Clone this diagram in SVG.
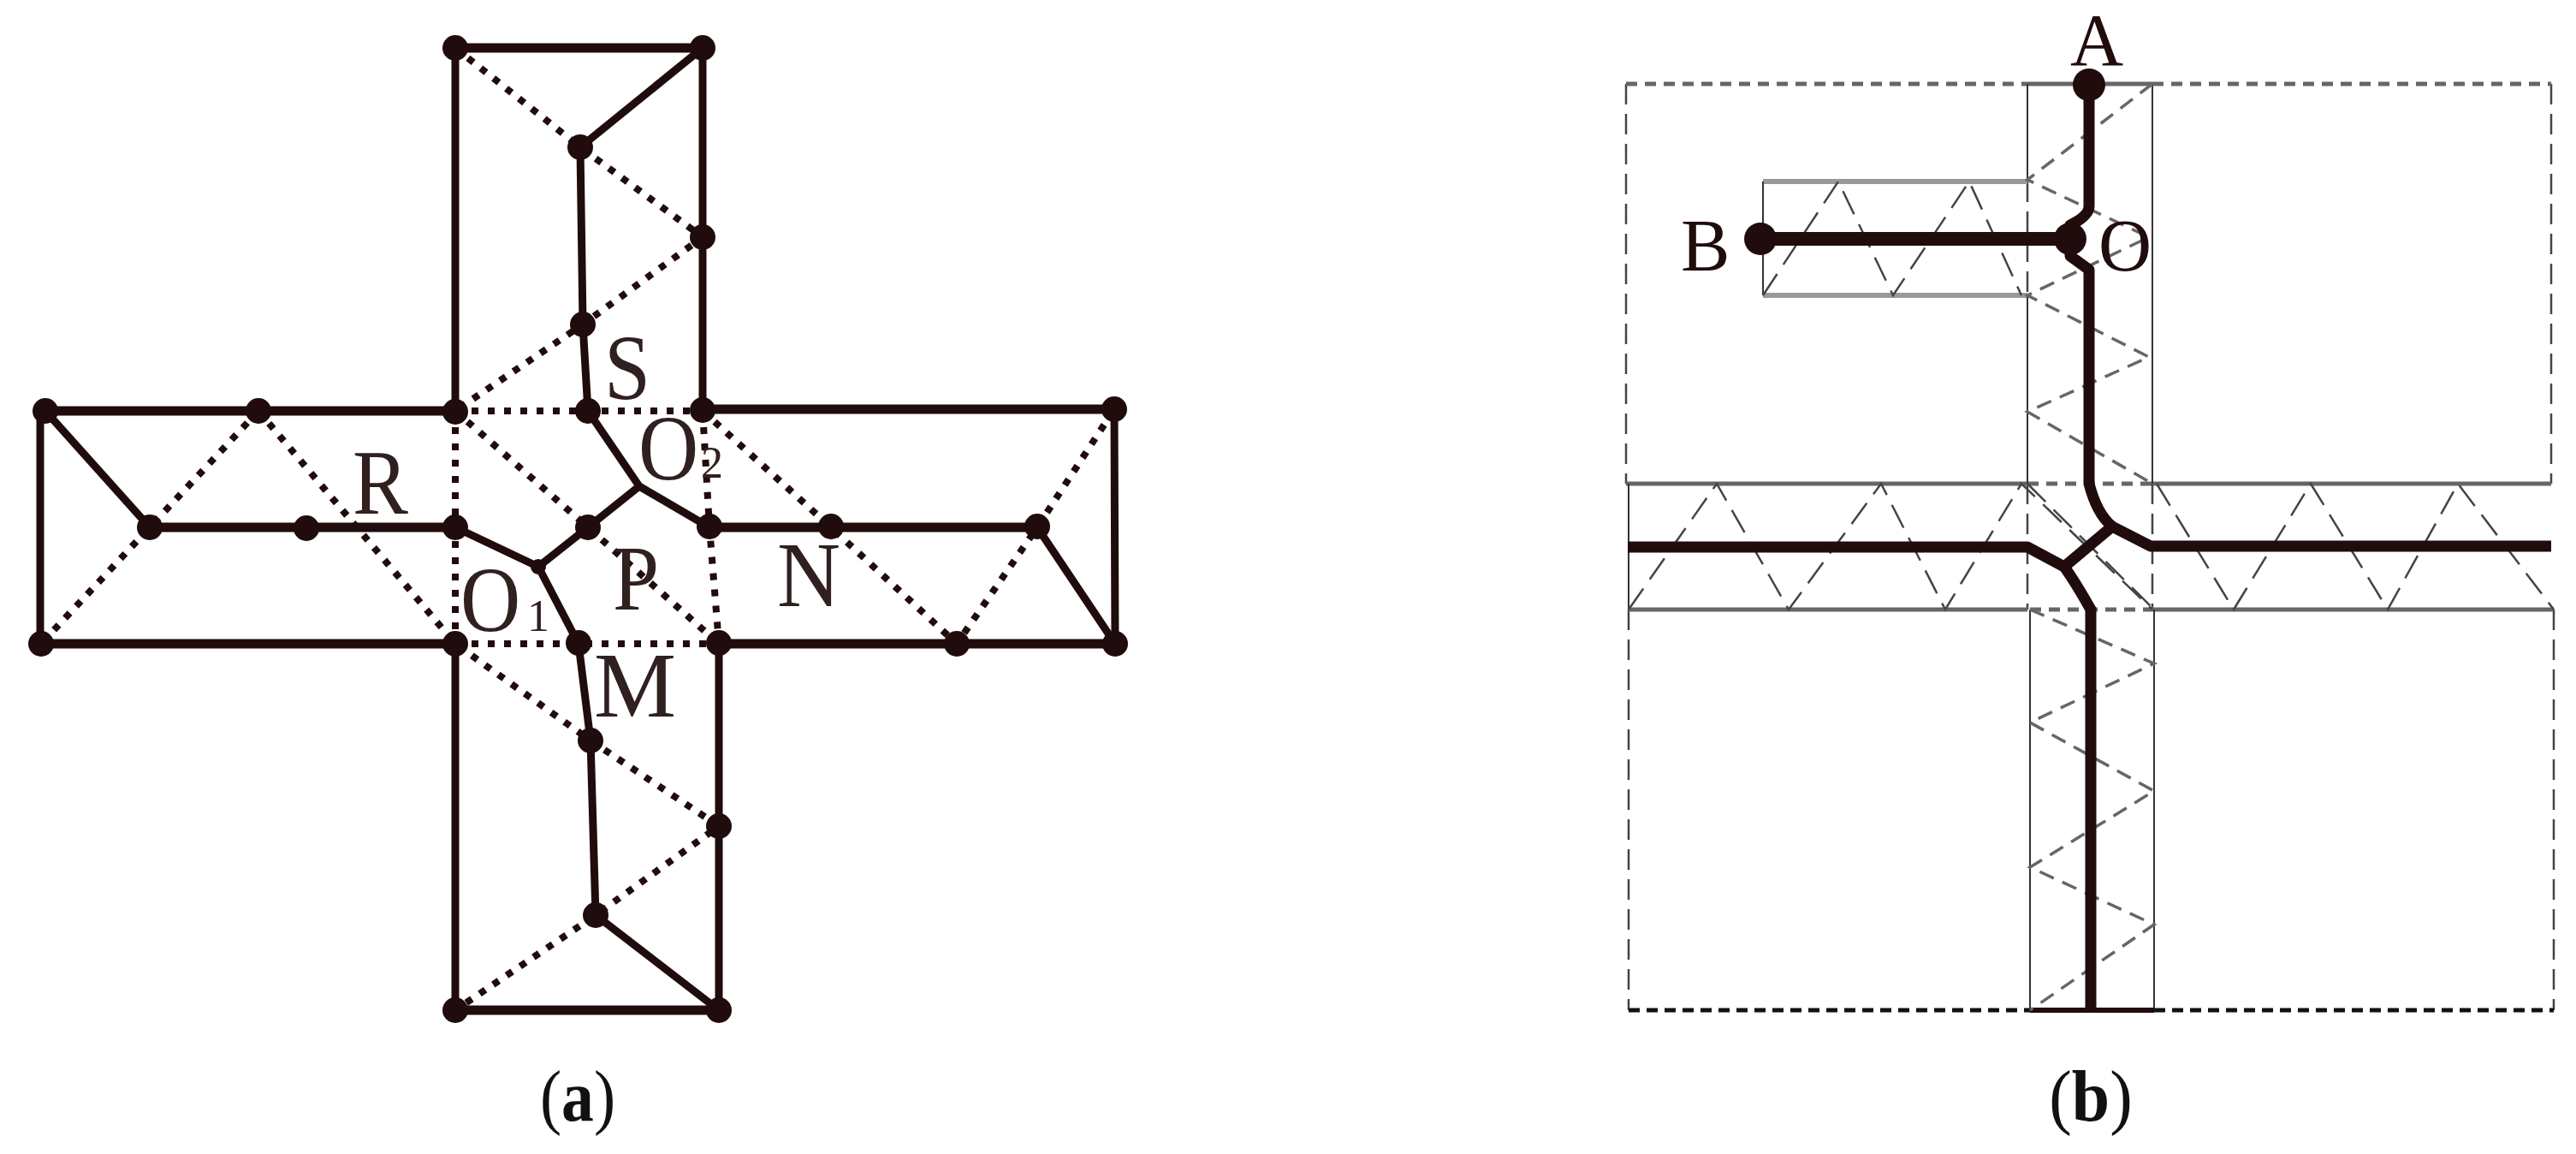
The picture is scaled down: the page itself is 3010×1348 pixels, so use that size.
<svg xmlns="http://www.w3.org/2000/svg" width="3010" height="1348" viewBox="0 0 3010 1348">
<style>
.s{fill:none;stroke:#200c0c;stroke-width:9;stroke-linejoin:round}
.h{stroke-width:11}
.d{fill:none;stroke:#200c0c;stroke-width:8;stroke-dasharray:8 11}
.thick{fill:none;stroke:#200c0c;stroke-width:13;stroke-linejoin:round}
.g{fill:none;stroke:#666;stroke-width:5}
.gl{fill:none;stroke:#999;stroke-width:6}
.gd{fill:none;stroke:#666;stroke-width:5;stroke-dasharray:13 9}
.t{fill:none;stroke:#333;stroke-width:2}
.td{fill:none;stroke:#444;stroke-width:2.5;stroke-dasharray:24 11}
.z{fill:none;stroke:#666;stroke-width:3.5;stroke-dasharray:18 11}
.zh{fill:none;stroke:#444;stroke-width:2.5;stroke-dasharray:30 13}
.b{fill:none;stroke:#111;stroke-width:5;stroke-dasharray:13 8}
.n{fill:#200c0c}
text{font-family:"Liberation Serif","Times New Roman",serif;fill:#302020}
.l{font-size:108px}
.sub{font-size:52px}
.r{font-size:86px;fill:#200c0c}
.c{font-size:84px;fill:#111;text-anchor:middle}
.c tspan{font-weight:bold}
</style>
<g id="connectors">
<g id="a-dotted">
<path class="d" d="M532 56L678 172L821 277L681 379L532 480"/>
<path class="d" d="M532 480H821"/>
<path class="d" d="M532 480V752"/>
<path class="d" d="M532 480L687 616L840 752"/>
<path class="d" d="M821 480L829 616L840 752"/>
<path class="d" d="M821 480L971 616L1118 752L1212 616L1302 478"/>
<path class="d" d="M532 752H840"/>
<path class="d" d="M302 480L175 616L48 752"/>
<path class="d" d="M302 480L532 752L690 865L840 965L696 1069L532 1180"/>
</g>
<g id="a-solid">
<path class="s h" d="M532 56H821"/>
<path class="s" d="M532 56V480M821 56V478"/>
<path class="s h" d="M53 480H532M821 478H1302"/>
<path class="s" d="M47 480V752M1302 478L1303 752"/>
<path class="s h" d="M48 752H532M840 752H1303"/>
<path class="s" d="M532 752V1180M840 752V1180"/>
<path class="s h" d="M532 1180H840"/>
<path class="s" d="M821 56L678 172L681 379L687 480L747 568L687 616L629 662L676 752L690 865L696 1069L840 1180"/>
<path class="s" d="M747 568L829 616"/>
<path class="s h" d="M175 616H532M829 616H1212"/>
<path class="s" d="M532 616L629 662M1212 616L1303 752M53 480L175 616"/>
</g>
<g id="b-thin">
<path class="td" d="M1900 98V565M1903 712V1180M2981 98V565M2984 712V1180M2369 212V345M2369 565V712M2515 565V712"/>
<path class="gl" d="M2060 212H2369M2060 345H2369"/>
<path class="gd" d="M1900 98H2369M2515 98H2981M2369 565H2515M2372 712H2517"/>
<path class="g" d="M2369 98H2515M1900 565H2369M2515 565H2981M1903 712H2369M2517 712H2984"/>
<path class="t" d="M2369 98V212M2369 345V565M2515 98V565M2060 212V345M1903 565V712M2372 712V1180M2517 712V1180"/>
<path class="b" d="M1903 1180H2372M2517 1180H2984"/>
<path class="s" style="stroke-width:6" d="M2372 1180H2517"/>
<path class="z" d="M2515 98L2369 210L2511 277L2369 345L2511 417L2369 481L2515 565"/>
<path class="zh" d="M1903 712L2006 565L2090 712L2198 565L2273 712L2362 565L2515 712"/>
<path class="zh" d="M2369 565L2517 712"/>
<path class="zh" d="M2520 565L2610 712L2700 565L2790 712L2872 565L2984 712"/>
<path class="zh" d="M2060 345L2148 212L2212 345L2301 212L2362 345"/>
<path class="z" d="M2372 712L2517 775L2372 844L2517 924L2372 1013L2517 1080L2372 1180"/>
</g>
<g id="b-thick">
<path class="thick" d="M2441 99V241Q2441 252 2419 263V299L2441 315V565Q2450 600 2468 615L2513 638H2981"/>
<path class="thick" d="M1902 639H2369L2412 662L2468 615"/>
<path class="thick" d="M2412 662Q2425 680 2443 712V1180"/>
<path class="thick" style="stroke-width:16" d="M2057 279H2419"/>
</g>
</g>
<g id="node-a-dots" class="n">
<circle cx="532" cy="56" r="15"/><circle cx="821" cy="56" r="15"/>
<circle cx="678" cy="172" r="15"/><circle cx="821" cy="277" r="15"/>
<circle cx="681" cy="379" r="15"/>
<circle cx="53" cy="480" r="15"/><circle cx="302" cy="480" r="15"/><circle cx="532" cy="481" r="15"/><circle cx="687" cy="480" r="15"/><circle cx="821" cy="479" r="15"/><circle cx="1302" cy="478" r="15"/>
<circle cx="175" cy="616" r="15"/><circle cx="358" cy="617" r="15"/><circle cx="532" cy="616" r="15"/><circle cx="687" cy="616" r="15"/><circle cx="829" cy="615" r="15"/><circle cx="971" cy="615" r="15"/><circle cx="1212" cy="615" r="15"/>
<circle cx="629" cy="662" r="9"/>
<circle cx="48" cy="752" r="15"/><circle cx="532" cy="752" r="15"/><circle cx="676" cy="751" r="15"/><circle cx="840" cy="751" r="15"/><circle cx="1118" cy="752" r="15"/><circle cx="1303" cy="752" r="15"/>
<circle cx="690" cy="865" r="15"/><circle cx="840" cy="965" r="15"/><circle cx="696" cy="1069" r="15"/>
<circle cx="532" cy="1180" r="15"/><circle cx="840" cy="1180" r="15"/>
</g>
<g id="node-b-dots" class="n">
<circle cx="2441" cy="99" r="19"/><circle cx="2057" cy="279" r="19"/><circle cx="2419" cy="279" r="19"/>
</g>
<g id="labels-a">
<text class="l" transform="translate(706 466) scale(.9 1)">S</text>
<text class="l" transform="translate(412 600) scale(.9 1)">R</text>
<text class="l" transform="translate(746 560) scale(.9 1)">O</text>
<text class="sub" x="819" y="558">2</text>
<text class="l" transform="translate(716 712) scale(.9 1)">P</text>
<text class="l" transform="translate(908 708) scale(.95 1)">N</text>
<text class="l" transform="translate(538 737) scale(.9 1)">O</text>
<text class="sub" x="616" y="737">1</text>
<text class="l" transform="translate(694 837)">M</text>
</g>
<g id="labels-b">
<text class="r" x="2419" y="76">A</text>
<text class="r" x="1964" y="316">B</text>
<text class="r" x="2452" y="316">O</text>
</g>
<g id="captions">
<text class="c" transform="translate(675 1309) scale(.9 1)">(<tspan>a</tspan>)</text>
<text class="c" transform="translate(2443 1309) scale(.95 1)">(<tspan>b</tspan>)</text>
</g>
</svg>
